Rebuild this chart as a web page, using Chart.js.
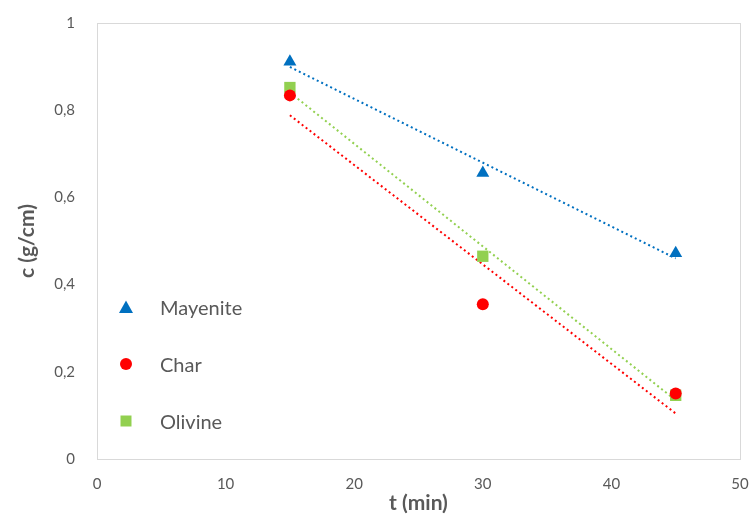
<!DOCTYPE html>
<html>
<head>
<meta charset="utf-8">
<script src="https://cdn.jsdelivr.net/npm/chart.js@4.4.1/dist/chart.umd.min.js"></script>
<style>
    html, body { margin: 0; padding: 0; background: #fff; }
    #wrap { position: relative; width: 751px; height: 516px; }
    #legend { position: absolute; left: 118px; top: 293px; font-family: Lato, "Open Sans", sans-serif; font-size: 20px; color: #595959; }
    .legend-item { display: flex; align-items: center; height: 28px; margin-bottom: 29px; }
    .legend-mark { width: 16px; height: 16px; margin-right: 26px; }
</style>
</head>
<body>
<div id="wrap">
    <canvas id="chart" width="751" height="516"></canvas>
    <div id="legend"></div>
</div>
<script>
const times = [15, 30, 45];
const mayenite = [0.911, 0.656, 0.472];
const charValues = [0.834, 0.355, 0.150];
const olivine = [0.852, 0.465, 0.146];

const seriesNames = ['Mayenite', 'Char', 'Olivine'];
const seriesColors = ['#0070C0', '#FF0000', '#92D050'];
const seriesShapes = ['triangle', 'circle', 'rect'];
const seriesValues = [mayenite, charValues, olivine];
const markerRadius = [7.5, 6, 8];

// least squares fit, same as the spreadsheet linear trendline
function trendline(xs, ys) {
    const n = xs.length;
    const mx = xs.reduce((a, b) => a + b, 0) / n;
    const my = ys.reduce((a, b) => a + b, 0) / n;
    let num = 0, den = 0;
    for (let i = 0; i < n; i++) {
        num += (xs[i] - mx) * (ys[i] - my);
        den += (xs[i] - mx) * (xs[i] - mx);
    }
    const slope = num / den;
    const x0 = xs[0], x1 = xs[n - 1];
    return [
        { x: x0, y: my + slope * (x0 - mx) },
        { x: x1, y: my + slope * (x1 - mx) }
    ];
}

const datasets = [];
seriesNames.forEach((name, i) => {
    datasets.push({
        type: 'line',
        label: name + ' trend',
        data: trendline(times, seriesValues[i]),
        borderColor: seriesColors[i],
        borderWidth: 2,
        borderDash: [2, 3],
        pointRadius: 0,
        fill: false,
        order: 2
    });
});
seriesNames.forEach((name, i) => {
    datasets.push({
        type: 'scatter',
        label: name,
        data: times.map((t, j) => ({ x: t, y: seriesValues[i][j] })),
        backgroundColor: seriesColors[i],
        borderColor: seriesColors[i],
        borderWidth: 0,
        pointStyle: seriesShapes[i],
        pointRadius: markerRadius[i],
        order: 1
    });
});

const frame = {
    id: 'frame',
    beforeDatasetsDraw(chart) {
        const { ctx, chartArea: { left, top, right, bottom } } = chart;
        ctx.save();
        ctx.strokeStyle = '#D9D9D9';
        ctx.lineWidth = 1;
        ctx.strokeRect(left + 0.5, top + 0.5, right - left, bottom - top);
        ctx.restore();
    }
};

const tickFont = { family: 'Lato, "Open Sans", sans-serif', size: 15 };
const titleFont = { family: 'Lato, "Open Sans", sans-serif', size: 21, weight: 'bold' };

new Chart(document.getElementById('chart').getContext('2d'), {
    type: 'scatter',
    data: { datasets: datasets },
    options: {
        responsive: false,
        animation: false,
        layout: { padding: { top: 20, right: 11, left: 0, bottom: 0 } },
        plugins: {
            legend: { display: false },
            tooltip: { enabled: false }
        },
        scales: {
            x: {
                type: 'linear',
                min: 0,
                max: 50,
                ticks: { stepSize: 10, color: '#595959', font: tickFont, padding: 8 },
                grid: { display: false },
                border: { display: false },
                title: { display: true, text: 't (min)', color: '#595959', font: titleFont, padding: { top: 2, bottom: 0 } },
                afterFit(scale) {
                    scale.height = 57;
                    scale.paddingRight = 0;
                }
            },
            y: {
                type: 'linear',
                min: 0,
                max: 1,
                ticks: {
                    stepSize: 0.2,
                    color: '#595959',
                    font: tickFont,
                    padding: 14,
                    callback: v => String(Math.round(v * 10) / 10).replace('.', ',')
                },
                grid: { display: false },
                border: { display: false },
                title: { display: true, text: 'c (g/cm)', color: '#595959', font: titleFont, padding: { top: 15, bottom: 0 } },
                afterFit(scale) { scale.width = 97; }
            }
        }
    },
    plugins: [frame]
});

// legend inside the plot, drawn as html
const legend = document.getElementById('legend');
seriesNames.forEach((name, i) => {
    const item = document.createElement('div');
    item.className = 'legend-item';
    const mark = document.createElement('canvas');
    mark.className = 'legend-mark';
    mark.width = 16;
    mark.height = 16;
    const c = mark.getContext('2d');
    c.fillStyle = seriesColors[i];
    c.beginPath();
    if (seriesShapes[i] === 'triangle') {
        c.moveTo(8, 1.5); c.lineTo(15, 14); c.lineTo(1, 14);
    } else if (seriesShapes[i] === 'circle') {
        c.arc(8, 8, 6, 0, 2 * Math.PI);
    } else {
        c.rect(2.5, 2.5, 11, 11);
    }
    c.fill();
    const label = document.createElement('span');
    label.textContent = name;
    item.appendChild(mark);
    item.appendChild(label);
    legend.appendChild(item);
});
</script>
</body>
</html>
